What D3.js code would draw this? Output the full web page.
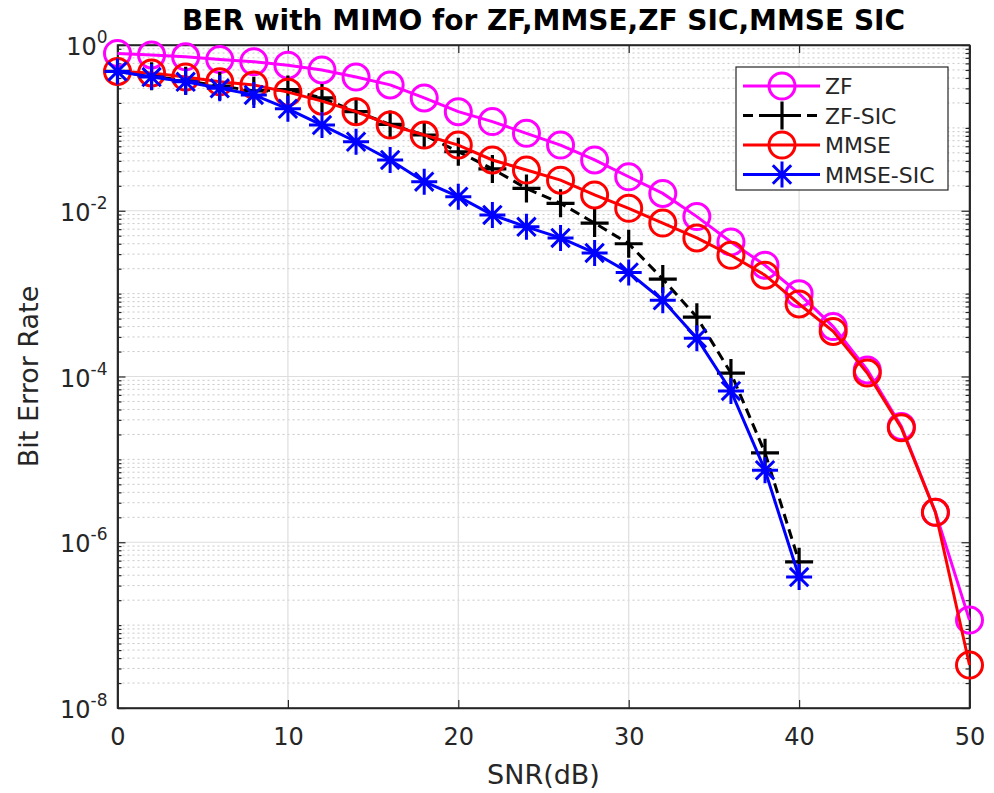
<!DOCTYPE html>
<html lang="en">
<head>
    <meta charset="UTF-8">
    <script src="https://d3js.org/d3.v7.min.js"></script>
    <style>
        body {
            margin: 0;
            padding: 0;
            background-color: #ffffff;
            font-family: 'DejaVu Sans', sans-serif;
        }

        svg {
            display: block;
        }

        .axis path,
        .axis line {
            stroke: #262626;
        }

        .axis text {
            fill: #262626;
        }
    </style>
</head>
<body>
    <svg id="chart" width="994" height="793"></svg>

    <script>
        // Data
        const snr = [0, 2, 4, 6, 8, 10, 12, 14, 16, 18, 20, 22, 24, 26, 28, 30, 32, 34, 36, 38, 40, 42, 44, 46, 48, 50];
        const snrSic = [0, 2, 4, 6, 8, 10, 12, 14, 16, 18, 20, 22, 24, 26, 28, 30, 32, 34, 36, 38, 40];

        const berZF = [0.79, 0.76, 0.72, 0.67, 0.63, 0.57, 0.50, 0.41, 0.33, 0.23, 0.157, 0.119, 0.086,
            0.062, 0.041, 0.0257, 0.0162, 0.0085, 0.0042, 0.0022, 0.001, 4.0e-4, 1.2e-4, 2.5e-5, 2.3e-6, 1.15e-7];
        const berMMSE = [0.48, 0.46, 0.41, 0.36, 0.33, 0.27, 0.21, 0.157, 0.108, 0.082, 0.062, 0.041, 0.031,
            0.0234, 0.0155, 0.0107, 0.0071, 0.0047, 0.0029, 0.00167, 7.5e-4, 3.5e-4, 1.1e-4, 2.4e-5, 2.3e-6, 3.3e-8];
        const berZFSIC = [0.48, 0.42, 0.37, 0.32, 0.28, 0.29, 0.23, 0.157, 0.11, 0.082, 0.0515, 0.032, 0.0186,
            0.0123, 0.0071, 0.0040, 0.0015, 5.2e-4, 1.1e-4, 1.2e-5, 5.8e-7];
        const berMMSESIC = [0.48, 0.41, 0.36, 0.30, 0.25, 0.17, 0.108, 0.068, 0.041, 0.0224, 0.0148, 0.0089, 0.0064,
            0.0047, 0.0031, 0.0018, 8.3e-4, 2.9e-4, 6.7e-5, 7.4e-6, 3.8e-7];

        const xTicks = [0, 10, 20, 30, 40, 50];
        const yTickExps = [0, -2, -4, -6, -8];
        const legendNames = ["ZF", "ZF-SIC", "MMSE", "MMSE-SIC"];

        // series in plot order (same as legend)
        const series = [
            { name: "ZF", x: snr, y: berZF, color: "#ff00ff", marker: "circle", dash: null },
            { name: "ZF-SIC", x: snrSic, y: berZFSIC, color: "#000000", marker: "plus", dash: "10,6" },
            { name: "MMSE", x: snr, y: berMMSE, color: "#ff0000", marker: "circle", dash: null },
            { name: "MMSE-SIC", x: snrSic, y: berMMSESIC, color: "#0000ff", marker: "star", dash: null }
        ];

        const margin = { top: 45, right: 24.5, bottom: 85, left: 117.5 };
        const W = 994, H = 793;
        const width = W - margin.left - margin.right;
        const height = H - margin.top - margin.bottom;

        const svg = d3.select("#chart");
        const g = svg.append("g").attr("transform", `translate(${margin.left},${margin.top})`);

        const x = d3.scaleLinear().domain([0, 50]).range([0, width]);
        const y = d3.scaleLog().domain([1e-8, 1]).range([height, 0]);

        // minor positions on the log axis
        const minorVals = [];
        for (let k = -8; k < 0; k++) {
            for (let m = 1; m <= 9; m++) {
                if (m === 1 && k % 2 === 0) continue;
                minorVals.push(m * Math.pow(10, k));
            }
        }
        const majorVals = yTickExps.map(e => Math.pow(10, e));

        // grid
        g.append("g").selectAll("line")
            .data(minorVals)
            .enter().append("line")
            .attr("x1", 0).attr("x2", width)
            .attr("y1", d => y(d)).attr("y2", d => y(d))
            .attr("stroke", "#c8c8c8")
            .attr("stroke-width", 1)
            .attr("stroke-dasharray", "2,3");

        g.append("g").selectAll("line")
            .data(majorVals)
            .enter().append("line")
            .attr("x1", 0).attr("x2", width)
            .attr("y1", d => y(d)).attr("y2", d => y(d))
            .attr("stroke", "#dedede")
            .attr("stroke-width", 1.2);

        g.append("g").selectAll("line")
            .data(xTicks)
            .enter().append("line")
            .attr("x1", d => x(d)).attr("x2", d => x(d))
            .attr("y1", 0).attr("y2", height)
            .attr("stroke", "#dedede")
            .attr("stroke-width", 1.2);

        // axes (ticks pointing inwards on all four sides)
        const xAxisB = d3.axisBottom(x).tickValues(xTicks).tickSizeInner(-8).tickSizeOuter(0).tickPadding(20);
        const xAxisT = d3.axisTop(x).tickValues(xTicks).tickSizeInner(-8).tickSizeOuter(0).tickFormat("");
        const yAxisL = d3.axisLeft(y).tickValues(majorVals).tickSizeInner(-8).tickSizeOuter(0).tickFormat("");
        const yAxisR = d3.axisRight(y).tickValues(majorVals).tickSizeInner(-8).tickSizeOuter(0).tickFormat("");
        const yMinorL = d3.axisLeft(y).tickValues(minorVals).tickSizeInner(-4).tickSizeOuter(0).tickFormat("");
        const yMinorR = d3.axisRight(y).tickValues(minorVals).tickSizeInner(-4).tickSizeOuter(0).tickFormat("");

        const gx = g.append("g").attr("class", "axis")
            .attr("transform", `translate(0,${height})`)
            .call(xAxisB);
        gx.selectAll("text").attr("font-size", 24).attr("font-family", "'DejaVu Sans', sans-serif");

        g.append("g").attr("class", "axis").call(xAxisT);
        g.append("g").attr("class", "axis").call(yAxisL);
        g.append("g").attr("class", "axis").call(yMinorL);
        g.append("g").attr("class", "axis").attr("transform", `translate(${width},0)`).call(yAxisR);
        g.append("g").attr("class", "axis").attr("transform", `translate(${width},0)`).call(yMinorR);

        g.selectAll(".axis path").attr("stroke-width", 1.5);
        g.selectAll(".axis line").attr("stroke-width", 1.2);

        // y tick labels with superscript exponents
        const ylab = g.append("g").selectAll("text")
            .data(yTickExps)
            .enter().append("text")
            .attr("x", -10)
            .attr("y", d => y(Math.pow(10, d)) + 10)
            .attr("text-anchor", "end")
            .attr("fill", "#262626")
            .attr("font-size", 24);
        ylab.append("tspan").text("10");
        ylab.append("tspan")
            .attr("dy", -12)
            .attr("font-size", 17)
            .text(d => d === 0 ? "0" : "-" + Math.abs(d));

        // box
        g.append("rect")
            .attr("x", 0).attr("y", 0)
            .attr("width", width).attr("height", height)
            .attr("fill", "none")
            .attr("stroke", "#262626")
            .attr("stroke-width", 1.5);

        // markers
        function drawMarker(sel, type, color) {
            if (type === "circle") {
                sel.append("circle").attr("r", 13)
                    .attr("fill", "none").attr("stroke", color).attr("stroke-width", 3);
            } else if (type === "plus") {
                sel.append("path").attr("d", "M-14,0H14M0,-14V14")
                    .attr("stroke", color).attr("stroke-width", 3.2).attr("fill", "none");
            } else {
                const r = 13, d = r * 0.7071;
                sel.append("path")
                    .attr("d", `M-${r},0H${r}M0,-${r}V${r}M-${d},-${d}L${d},${d}M-${d},${d}L${d},-${d}`)
                    .attr("stroke", color).attr("stroke-width", 3).attr("fill", "none");
            }
        }

        const line = d3.line().x(d => x(d[0])).y(d => y(d[1]));

        series.forEach(s => {
            const pts = s.x.map((v, i) => [v, s.y[i]]);
            const sg = g.append("g");
            sg.append("path")
                .datum(pts)
                .attr("d", line)
                .attr("fill", "none")
                .attr("stroke", s.color)
                .attr("stroke-width", 3)
                .attr("stroke-dasharray", s.dash);
            sg.selectAll(".m")
                .data(pts)
                .enter().append("g")
                .attr("transform", d => `translate(${x(d[0])},${y(d[1])})`)
                .each(function () { drawMarker(d3.select(this), s.marker, s.color); });
        });

        // title and axis labels
        svg.append("text")
            .attr("x", margin.left + width / 2)
            .attr("y", 30)
            .attr("text-anchor", "middle")
            .attr("font-size", 28)
            .attr("font-weight", "bold")
            .attr("fill", "#000")
            .text("BER with MIMO for ZF,MMSE,ZF SIC,MMSE SIC");

        svg.append("text")
            .attr("x", margin.left + width / 2)
            .attr("y", 784)
            .attr("text-anchor", "middle")
            .attr("font-size", 27)
            .attr("fill", "#262626")
            .text("SNR(dB)");

        svg.append("text")
            .attr("transform", `translate(38,${margin.top + height / 2}) rotate(-90)`)
            .attr("text-anchor", "middle")
            .attr("font-size", 27)
            .attr("fill", "#262626")
            .text("Bit Error Rate");

        // legend
        const lg = svg.append("g").attr("transform", "translate(736,67)");
        lg.append("rect")
            .attr("width", 212).attr("height", 123)
            .attr("fill", "#fff")
            .attr("stroke", "#262626")
            .attr("stroke-width", 1.2);
        legendNames.forEach((name, i) => {
            const s = series.find(d => d.name === name);
            const row = lg.append("g").attr("transform", `translate(0,${19 + i * 29.5})`);
            row.append("line")
                .attr("x1", 7).attr("x2", 84)
                .attr("stroke", s.color).attr("stroke-width", 3)
                .attr("stroke-dasharray", s.dash);
            const mk = row.append("g").attr("transform", "translate(46,0)");
            drawMarker(mk, s.marker, s.color);
            row.append("text")
                .attr("x", 89).attr("y", 8)
                .attr("font-size", 22)
                .attr("fill", "#262626")
                .text(name);
        });
    </script>
</body>
</html>
